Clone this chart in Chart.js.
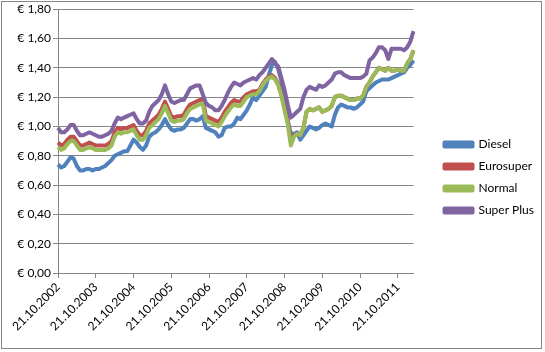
<!DOCTYPE html>
<html>
<head>
<meta charset="utf-8">
<script src="https://cdn.jsdelivr.net/npm/chart.js@4/dist/chart.umd.min.js"></script>
<style>
  body { margin: 0; background: #fff; }
</style>
</head>
<body>
<canvas id="myChart" width="545" height="352"></canvas>
<script>
// Monatswerte ab 21.10.2002 (Preis je Liter in Euro)
var seriesNames = ['Diesel', 'Eurosuper', 'Normal', 'Super Plus'];

var diesel = [
  0.74, 0.72, 0.73, 0.76, 0.79, 0.78, 0.73, 0.70, 0.70, 0.71, 0.71, 0.70,
  0.71, 0.71, 0.72, 0.73, 0.75, 0.77, 0.80, 0.81, 0.82, 0.83, 0.83, 0.87,
  0.91, 0.89, 0.86, 0.84, 0.87, 0.93, 0.95, 0.96, 0.98, 1.01, 1.05, 1.01,
  0.98, 0.97, 0.98, 0.98, 0.99, 1.02, 1.05, 1.05, 1.04, 1.05, 1.07, 0.99,
  0.98, 0.97, 0.96, 0.93, 0.94, 0.99, 1.00, 1.00, 1.02, 1.06, 1.05, 1.08,
  1.11, 1.15, 1.20, 1.18, 1.21, 1.24, 1.27, 1.35, 1.42, 1.44, 1.39, 1.31,
  1.18, 1.04, 0.95, 0.95, 0.96, 0.91, 0.94, 0.97, 1.00, 0.99, 0.98, 0.99,
  1.01, 1.02, 1.01, 1.00, 1.08, 1.13, 1.15, 1.14, 1.13, 1.13, 1.12, 1.13,
  1.15, 1.17, 1.24, 1.26, 1.28, 1.30, 1.31, 1.32, 1.32, 1.32, 1.33, 1.34,
  1.35, 1.36, 1.37, 1.40, 1.42, 1.45
];
var eurosuper = [
  0.89, 0.87, 0.88, 0.91, 0.93, 0.93, 0.90, 0.87, 0.87, 0.88, 0.89, 0.88,
  0.87, 0.87, 0.87, 0.87, 0.88, 0.90, 0.96, 0.99, 0.98, 0.99, 0.99, 1.00,
  1.01, 0.97, 0.94, 0.94, 0.97, 1.02, 1.04, 1.06, 1.08, 1.12, 1.17, 1.12,
  1.07, 1.06, 1.07, 1.07, 1.08, 1.12, 1.15, 1.16, 1.17, 1.18, 1.19, 1.07,
  1.06, 1.05, 1.04, 1.03, 1.06, 1.10, 1.13, 1.16, 1.18, 1.17, 1.17, 1.20,
  1.22, 1.23, 1.24, 1.24, 1.25, 1.29, 1.32, 1.34, 1.35, 1.33, 1.29, 1.22,
  1.12, 1.04, 0.90, 0.94, 0.95, 0.94, 0.99, 1.10, 1.12, 1.11, 1.12, 1.13,
  1.10, 1.11, 1.12, 1.14, 1.20, 1.21, 1.21, 1.20, 1.19, 1.18, 1.18, 1.19,
  1.19, 1.21, 1.27, 1.30, 1.34, 1.37, 1.40, 1.39, 1.38, 1.40, 1.38, 1.38,
  1.39, 1.38, 1.38, 1.43, 1.46, 1.52
];
var normal = [
  0.86, 0.84, 0.85, 0.88, 0.90, 0.90, 0.87, 0.84, 0.84, 0.85, 0.86, 0.85,
  0.84, 0.84, 0.84, 0.84, 0.85, 0.87, 0.93, 0.96, 0.95, 0.96, 0.96, 0.97,
  0.98, 0.94, 0.91, 0.91, 0.94, 0.99, 1.01, 1.03, 1.05, 1.09, 1.14, 1.09,
  1.04, 1.03, 1.04, 1.04, 1.05, 1.09, 1.12, 1.13, 1.14, 1.15, 1.16, 1.04,
  1.03, 1.02, 1.01, 1.00, 1.03, 1.07, 1.10, 1.13, 1.15, 1.14, 1.14, 1.17,
  1.20, 1.21, 1.22, 1.22, 1.24, 1.28, 1.31, 1.33, 1.34, 1.32, 1.28, 1.21,
  1.11, 1.02, 0.87, 0.93, 0.95, 0.94, 0.99, 1.10, 1.12, 1.11, 1.12, 1.13,
  1.10, 1.11, 1.12, 1.14, 1.20, 1.21, 1.21, 1.20, 1.19, 1.18, 1.18, 1.19,
  1.19, 1.21, 1.27, 1.30, 1.34, 1.37, 1.40, 1.39, 1.38, 1.40, 1.38, 1.38,
  1.39, 1.38, 1.38, 1.43, 1.46, 1.52
];
var superPlus = [
  0.99, 0.96, 0.96, 0.98, 1.01, 1.01, 0.97, 0.94, 0.94, 0.95, 0.96, 0.95,
  0.94, 0.93, 0.93, 0.94, 0.95, 0.97, 1.02, 1.06, 1.05, 1.06, 1.07, 1.08,
  1.09, 1.05, 1.02, 1.02, 1.04, 1.10, 1.14, 1.16, 1.18, 1.22, 1.28, 1.22,
  1.17, 1.16, 1.17, 1.18, 1.18, 1.22, 1.26, 1.27, 1.28, 1.28, 1.22, 1.16,
  1.14, 1.13, 1.11, 1.11, 1.14, 1.18, 1.23, 1.27, 1.30, 1.29, 1.28, 1.30,
  1.31, 1.32, 1.33, 1.32, 1.35, 1.37, 1.40, 1.43, 1.46, 1.43, 1.41, 1.33,
  1.25, 1.15, 1.06, 1.08, 1.10, 1.12, 1.20, 1.25, 1.27, 1.26, 1.25, 1.28,
  1.27, 1.28, 1.30, 1.32, 1.36, 1.37, 1.37, 1.35, 1.34, 1.33, 1.33, 1.33,
  1.33, 1.34, 1.36, 1.45, 1.47, 1.50, 1.54, 1.54, 1.52, 1.46, 1.53, 1.53,
  1.53, 1.53, 1.52, 1.54, 1.58, 1.65
];

// Kategorien: jeweils der 21. eines Monats
var dates = [];
for (var i = 0; i < diesel.length; i++) {
  var mm = (9 + i) % 12 + 1;
  var yy = 2002 + Math.floor((9 + i) / 12);
  dates.push('21.' + (mm < 10 ? '0' + mm : mm) + '.' + yy);
}

var colors = ['#4F81BD', '#C0504D', '#9BBB59', '#8064A2'];
var gridColor = '#868686';

// weisser Hintergrund + Rahmen wie in Excel
var frame = {
  id: 'frame',
  beforeDraw: function(chart) {
    var c = chart.ctx;
    c.save();
    c.fillStyle = '#fff';
    c.fillRect(0, 0, chart.width, chart.height);
    c.strokeStyle = gridColor;
    c.lineWidth = 1;
    c.strokeRect(1.5, 1.5, 540, 347);
    c.restore();
  }
};

Chart.defaults.font.family = 'Lato';
Chart.defaults.font.size = 12;
Chart.defaults.color = '#000';

var allSeries = [diesel, eurosuper, normal, superPlus];
var datasets = allSeries.map(function(d, i) {
  return {
    label: seriesNames[i],
    data: d,
    borderColor: colors[i],
    backgroundColor: colors[i],
    borderWidth: 4,
    borderJoinStyle: 'round',
    pointRadius: 0,
    tension: 0,
    order: 4 - i   // spaetere Reihen oben wie in Excel
  };
});

var ctx = document.getElementById('myChart').getContext('2d');
var myChart = new Chart(ctx, {
  type: 'line',
  data: { labels: dates, datasets: datasets },
  plugins: [frame],
  options: {
    responsive: false,
    animation: false,
    devicePixelRatio: 1,
    layout: { padding: { top: 3, left: 0, right: 1, bottom: 0 } },
    plugins: {
      tooltip: { enabled: false },
      legend: {
        position: 'right',
        labels: {
          boxWidth: 28,
          boxHeight: 4,
          padding: 10,
          color: '#000',
          sort: function(a, b) { return a.datasetIndex - b.datasetIndex; }
        }
      }
    },
    scales: {
      x: {
        offset: false,
        grid: { drawOnChartArea: false, color: gridColor, tickLength: 5 },
        border: { color: gridColor },
        afterBuildTicks: function(scale) {
          scale.ticks = scale.ticks.filter(function(t) { return t.value % 12 === 0; });
        },
        afterFit: function(scale) { scale.height = 79; },
        ticks: {
          autoSkip: false,
          minRotation: 45,
          maxRotation: 45,
          padding: 2,
          callback: function(v) { return this.getLabelForValue(v); }
        }
      },
      y: {
        min: 0,
        max: 1.8,
        grid: { color: gridColor, tickLength: 5 },
        border: { color: gridColor },
        afterFit: function(scale) { scale.width = 58; },
        ticks: {
          stepSize: 0.2,
          padding: 2,
          callback: function(v) { return '€ ' + v.toFixed(2).replace('.', ','); }
        }
      },
      // unsichtbarer Abstand zwischen Diagramm und Legende
      gap: {
        axis: 'y',
        position: 'right',
        display: false,
        afterFit: function(scale) { scale.width = 21; }
      }
    }
  }
});
</script>
</body>
</html>
